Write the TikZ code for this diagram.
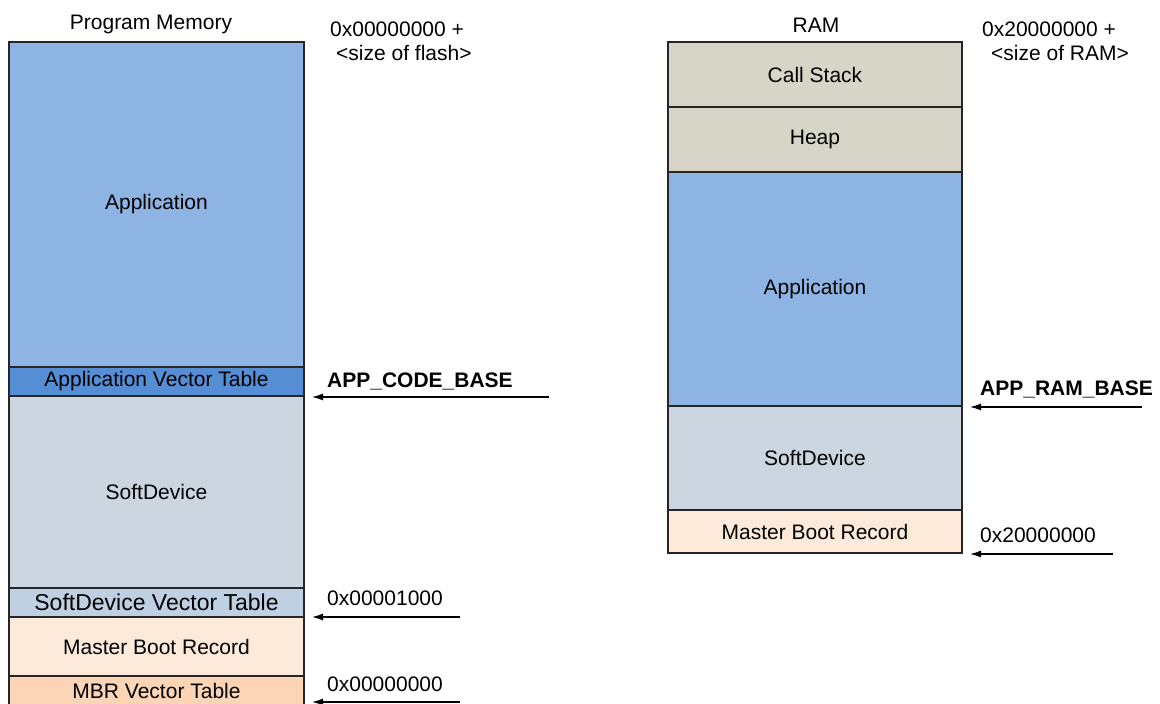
\documentclass[tikz,border=0pt]{standalone}
\usepackage{fontspec}
\setmainfont{Liberation Sans}
\usepackage{tikz}
\usetikzlibrary{positioning}
\usetikzlibrary{arrows.meta}
\definecolor{bleuappli}{HTML}{8DB4E2}
\definecolor{bleuvect}{HTML}{558ED5}
\definecolor{grissoft}{HTML}{CCD6E0}
\definecolor{grisvect}{HTML}{C0D0E3}
\definecolor{peche}{HTML}{FDEADA}
\definecolor{pechevect}{HTML}{FBD5B5}
\definecolor{beigepile}{HTML}{D7D5C8}

\begin{document}
\begin{tikzpicture}[x=1pt,y=-1pt]
% définition des styles
\tikzstyle blocmem=[rectangle,draw=black!85,line width=1.3pt,inner sep=0pt,outer sep=0pt,font=\fontsize{21}{24}\selectfont]
\tikzstyle blocgauche=[blocmem,minimum width=295pt]
\tikzstyle blocdroit=[blocmem,minimum width=294pt]
\tikzstyle etiqmem=[inner sep=0pt,font=\fontsize{21}{24}\selectfont]
\tikzstyle adrmem=[etiqmem,anchor=base west]
\tikzstyle flechemem=[line width=1.3pt,shorten >=8pt,-{Latex[length=11pt,width=7pt]}]
\newcommand{\memgx}{9}   % bord gauche de la mémoire programme
\newcommand{\memdx}{668} % bord gauche de la RAM
\newcommand{\memhaut}{42} % haut des deux colonnes
\useasboundingbox (0,0) rectangle (1160,704);
% la mémoire programme, de haut en bas
\node[blocgauche,fill=bleuappli,minimum height=325pt,anchor=north west] (appli) at (\memgx,\memhaut) {Application};
\node[blocgauche,fill=bleuvect,minimum height=29pt,below=0pt of appli] (vectappli) {Application Vector Table};
\node[blocgauche,fill=grissoft,minimum height=192pt,below=0pt of vectappli] (soft) {SoftDevice};
\node[blocgauche,fill=grisvect,minimum height=29pt,below=0pt of soft,font=\fontsize{23}{27}\selectfont] (vectsoft) {SoftDevice Vector Table};
\node[blocgauche,fill=peche,minimum height=59pt,below=0pt of vectsoft] (mbr) {Master Boot Record};
\node[blocgauche,fill=pechevect,minimum height=29pt,below=0pt of mbr] (vectmbr) {MBR Vector Table};
% la RAM
\node[blocdroit,fill=beigepile,minimum height=65pt,anchor=north west] (pile) at (\memdx,\memhaut) {Call Stack};
\node[blocdroit,fill=beigepile,minimum height=65pt,below=0pt of pile] (tas) {Heap};
\node[blocdroit,fill=bleuappli,minimum height=234pt,below=0pt of tas] (appliram) {Application};
\node[blocdroit,fill=grissoft,minimum height=104pt,below=0pt of appliram] (softram) {SoftDevice};
\node[blocdroit,fill=peche,minimum height=43pt,below=0pt of softram] (mbrram) {Master Boot Record};
% les titres
\node[etiqmem,anchor=base] (titreprog) at (151,30) {Program Memory};
\node[etiqmem,anchor=base] (titreram) at (816,32) {RAM};
\node[adrmem,align=left] (finflash) at (330,60) {0x00000000 +\\\hspace*{6pt}<size of flash>};
\node[adrmem,align=left] (finram) at (982,60) {0x20000000 +\\\hspace*{9pt}<size of RAM>};
% les adresses
\node[adrmem,font=\fontsize{21}{24}\selectfont\bfseries] (codebase) at (327,387) {APP\_CODE\_BASE};
\node[adrmem] (adrsoft) at (327,605) {0x00001000};
\node[adrmem] (adrzero) at (327,691) {0x00000000};
\node[adrmem,font=\fontsize{21}{24}\selectfont\bfseries] (rambase) at (980,395) {APP\_RAM\_BASE};
\node[adrmem] (adrram) at (980,542) {0x20000000};
% les flèches
\coordinate (qcode) at (549,397);
\coordinate (qsoft) at (460,617);
\coordinate (qzero) at (460,702);
\coordinate (qrambase) at (1142,407);
\coordinate (qram) at (1113,554);
\draw[flechemem] (qcode) -- (vectappli.east |- qcode);
\draw[flechemem] (qsoft) -- (vectsoft.east |- qsoft);
\draw[flechemem] (qzero) -- (vectmbr.east |- qzero);
\draw[flechemem] (qrambase) -- (appliram.east |- qrambase);
\draw[flechemem] (qram) -- (mbrram.east |- qram);
\end{tikzpicture}
\end{document}
